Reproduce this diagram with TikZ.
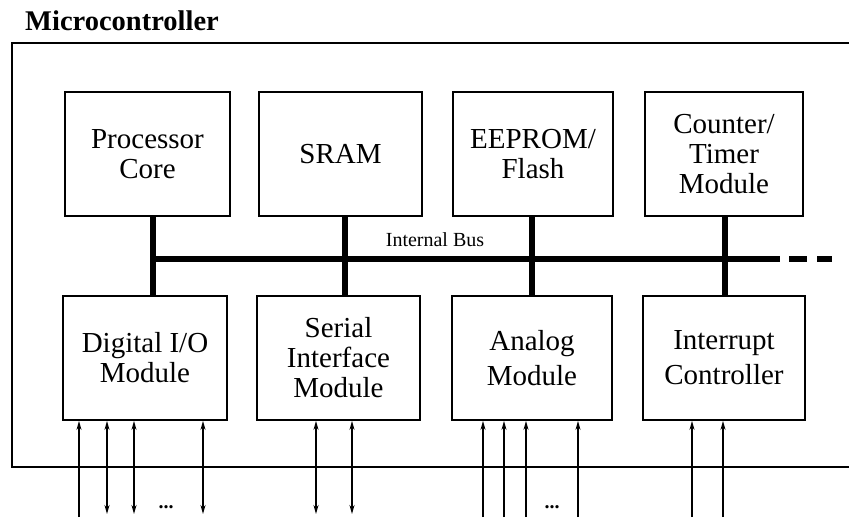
\documentclass[tikz,border=0pt]{standalone}
\usepackage{fontspec}
\setmainfont{Liberation Serif}
\usetikzlibrary{arrows.meta}
\begin{document}
\begin{tikzpicture}[x=1pt,y=-1pt,
  block/.style={draw,line width=1.8pt,inner sep=0pt,align=center,
    font=\fontsize{29}{30}\selectfont},
  topblock/.style={block,minimum height=124pt},
  busline/.style={line width=6.5pt},
  pinline/.style={line width=1.4pt},
  pinin/.style={pinline,-{Stealth[length=9pt,width=5pt]}},
  pinio/.style={pinline,{Stealth[length=9pt,width=5pt]}-{Stealth[length=9pt,width=5pt]}}]
\useasboundingbox (0,0) rectangle (849,517);

% title and enclosing frame (open to the right)
\node[anchor=base west,inner sep=0pt,font=\bfseries\fontsize{28.5}{30}\selectfont] (title) at (25,30) {Microcontroller};
\coordinate (fTR) at (849,43);
\coordinate (fTL) at (12,43);
\coordinate (fBL) at (12,467);
\coordinate (fBR) at (849,467);
\draw[line width=1.8pt] (fTR) -- (fTL) -- (fBL) -- (fBR);

% upper row of modules
\node[topblock,minimum width=165pt] (pc)   at (147.5,154) {Processor\\Core};
\node[topblock,minimum width=163pt] (sram) at (340.5,154) {SRAM};
\node[topblock,minimum width=160pt] (eep)  at (533,154)   {EEPROM/\\Flash};
\node[topblock,minimum width=158pt] (ctr)  at (724,154)   {Counter/\\Timer\\Module};

% lower row of modules
\node[topblock,minimum width=164pt] (dio)  at (145,358)   {Digital I/O\\Module};
\node[topblock,minimum width=163pt] (sif)  at (338.5,358) {Serial\\Interface\\Module};
\node[topblock,minimum width=160pt] (ana)  at (532,358)   {Analog\\[5pt]Module};
\node[topblock,minimum width=162pt] (irq)  at (724,358)   {Interrupt\\[5pt]Controller};

% internal bus
\coordinate (busL) at (150,259);
\coordinate (busR) at (780,259);
\coordinate (busE) at (832,259);
\draw[busline] (busL) -- (busR);
\draw[busline,dash pattern=on 0pt off 9pt on 18pt off 10pt on 15pt off 60pt] (busR) -- (busE);
\node[font=\fontsize{20}{20}\selectfont] (buslabel) at (435,240) {Internal Bus};

% taps from the modules onto the bus
\draw[busline] ([xshift=5.5pt]pc.south)  -- ([xshift=5.5pt]pc.south |- dio.north);
\draw[busline] ([xshift=4.5pt]sram.south) -- ([xshift=4.5pt]sram.south |- sif.north);
\draw[busline] ([xshift=-1pt]eep.south)  -- ([xshift=-1pt]eep.south |- ana.north);
\draw[busline] ([xshift=1pt]ctr.south)   -- ([xshift=1pt]ctr.south |- irq.north);

% external pins
\coordinate (d1) at (79,517);
\draw[pinin] (d1) -- (d1 |- dio.south);
\foreach \x [count=\i] in {107,134,203} {
  \coordinate (dd\i) at (\x,514);
  \draw[pinio] (dd\i) -- (dd\i |- dio.south);
}
\node[font=\bfseries\fontsize{20}{20}\selectfont] (ddots) at (166,507) {...};

\foreach \x [count=\i] in {316,352} {
  \coordinate (s\i) at (\x,514);
  \draw[pinio] (s\i) -- (s\i |- sif.south);
}

\foreach \x [count=\i] in {483,504,526,578} {
  \coordinate (a\i) at (\x,517);
  \draw[pinin] (a\i) -- (a\i |- ana.south);
}
\node[font=\bfseries\fontsize{20}{20}\selectfont] (adots) at (552,507) {...};

\foreach \x [count=\i] in {692,723} {
  \coordinate (r\i) at (\x,517);
  \draw[pinin] (r\i) -- (r\i |- irq.south);
}
\end{tikzpicture}
\end{document}
